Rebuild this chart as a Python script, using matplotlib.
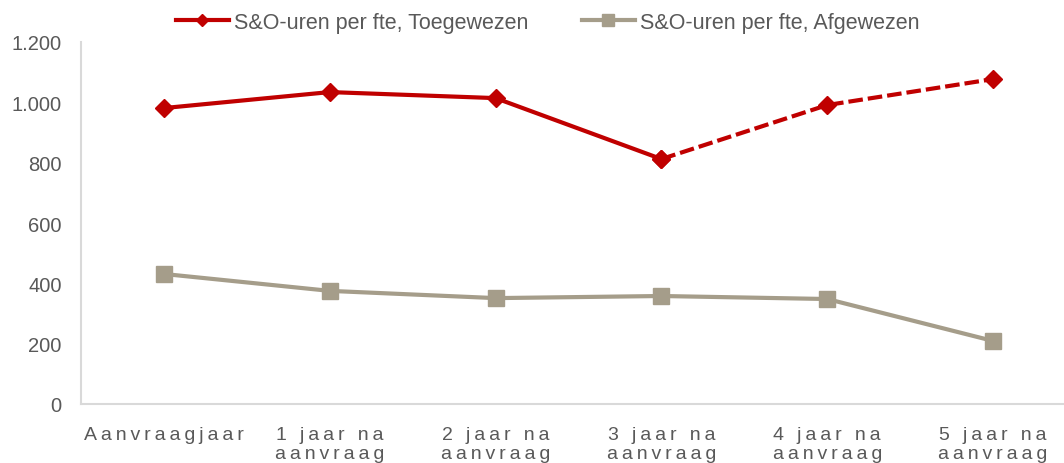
import matplotlib
matplotlib.use('Agg')
import matplotlib.pyplot as plt
from matplotlib.lines import Line2D

# data
categories = ['Aanvraagjaar', '1 jaar na\naanvraag', '2 jaar na\naanvraag',
              '3 jaar na\naanvraag', '4 jaar na\naanvraag', '5 jaar na\naanvraag']
toegewezen = [981, 1034, 1014, 812, 991, 1077]
afgewezen = [431, 375, 351, 358, 348, 209]
y_ticks = [0, 200, 400, 600, 800, 1000, 1200]
y_tick_labels = ['0', '200', '400', '600', '800', '1.000', '1.200']

red = '#c00000'
grey = '#a59d8a'
text_col = '#595959'

plt.rcParams['font.family'] = ['Liberation Sans', 'DejaVu Sans']

fig = plt.figure(figsize=(10.64, 4.64), dpi=100)
ax = fig.add_axes([81 / 1064, 59 / 464, 995 / 1064, 362 / 464])

x = list(range(len(categories)))
split = 3  # after 3 jaar the line turns dashed

ax.plot(x[:split + 1], toegewezen[:split + 1], color=red, lw=3,
        marker='D', ms=9, zorder=3)
ax.plot(x[split:], toegewezen[split:], color=red, lw=3, ls=(0, (3.5, 1.2)),
        marker='D', ms=9, zorder=3)
ax.plot(x, afgewezen, color=grey, lw=3, marker='s', ms=11, zorder=3)

ax.set_xlim(-0.5, len(categories) - 0.5)
ax.set_ylim(0, 1200)
ax.set_yticks(y_ticks)
ax.set_yticklabels(y_tick_labels)
ax.set_xticks(x)
# the x labels are drawn with wide letter spacing
spaced = ['\n'.join('\u2009'.join(line) for line in c.split('\n')) for c in categories]
ax.set_xticklabels(spaced, linespacing=1.12)

ax.tick_params(axis='y', length=0, pad=14, labelsize=14.5, labelcolor=text_col)
ax.tick_params(axis='x', length=0, pad=16, labelsize=14, labelcolor=text_col)

for s in ['top', 'right']:
    ax.spines[s].set_visible(False)
for s in ['left', 'bottom']:
    ax.spines[s].set_color('#d9d9d9')
    ax.spines[s].set_linewidth(1.5)

handles = [Line2D([], [], color=red, lw=3, marker='D', ms=6),
           Line2D([], [], color=grey, lw=3, marker='s', ms=8)]
labels = ['S&O-uren per fte, Toegewezen', 'S&O-uren per fte, Afgewezen']
fig.legend(handles, labels, loc='center', bbox_to_anchor=(0.5146, 0.95), ncol=2,
           frameon=False, fontsize=15.5, labelcolor=text_col, handlelength=2.45,
           handletextpad=0.23, columnspacing=2.5, borderpad=0, borderaxespad=0)

fig.savefig('out.png', dpi=100)
